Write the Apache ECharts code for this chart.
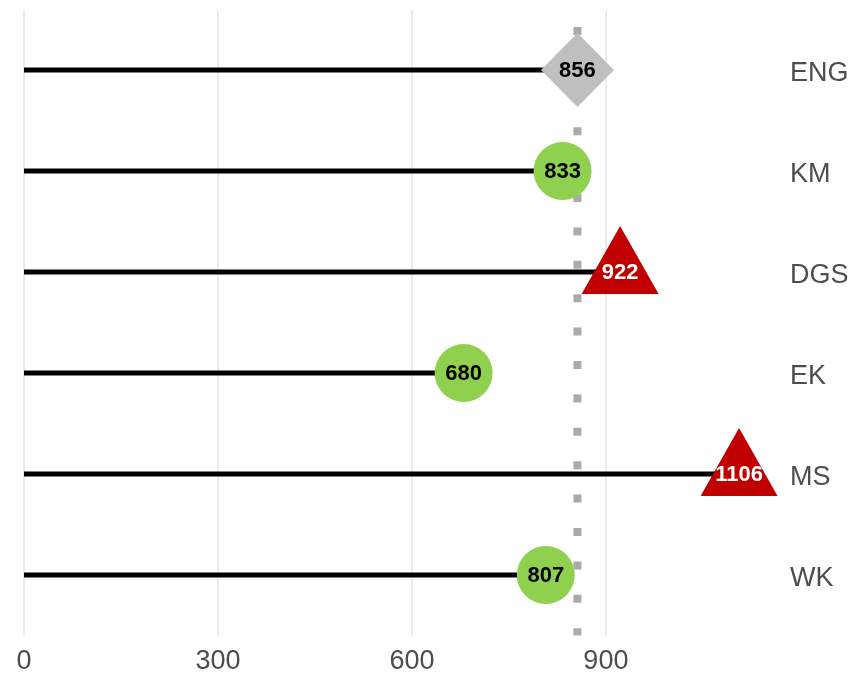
<!DOCTYPE html>
<html>
<head>
<meta charset="utf-8">
<script src="https://cdn.jsdelivr.net/npm/echarts@6/dist/echarts.min.js"></script>
<style>html,body{margin:0;padding:0;background:#fff}#c{width:856px;height:678px}</style>
</head>
<body>
<div id="c"></div>
<script>
const categories = ['ENG', 'KM', 'DGS', 'EK', 'MS', 'WK'];
const values = [856, 833, 922, 680, 1106, 807];
const referenceValue = 856;
const xTicks = [0, 300, 600, 900];

const FONT = '"Liberation Sans", Arial, Helvetica, sans-serif';
const chart = echarts.init(document.getElementById('c'), null, {renderer: 'canvas'});

function markerStyle(v) {
  if (v > referenceValue) return {symbol: 'triangle', symbolSize: [77, 68], symbolOffset: [0, -12], color: '#c00000', text: '#ffffff'};
  if (v < referenceValue) return {symbol: 'circle', symbolSize: 58, symbolOffset: [0, 0], color: '#8fd14f', text: '#000000'};
  return {symbol: 'diamond', symbolSize: [73, 74], symbolOffset: [0, 0], color: '#bfbfbf', text: '#000000'};
}

const pts = values.map((v, i) => [v, i]);

chart.setOption({
  animation: false,
  grid: {left: 24, right: 82, top: 9.4, bottom: 42.4, containLabel: false},
  xAxis: {
    type: 'value', min: 0, max: 1160, interval: 300,
    axisLine: {show: false}, axisTick: {show: false},
    axisLabel: {color: '#4d4d4d', fontSize: 27, fontFamily: FONT, margin: 12,
      customValues: xTicks},
    splitLine: {show: true, showMaxLine: false, lineStyle: {color: '#ebebeb', width: 2}}
  },
  yAxis: {
    type: 'value', inverse: true, min: -0.6, max: 5.6, position: 'right',
    axisLine: {show: false}, axisTick: {show: false},
    splitLine: {show: false},
    axisLabel: {color: '#4d4d4d', fontSize: 27, fontFamily: FONT, margin: 16,
      customValues: categories.map((c, i) => i + 0.035),
      formatter: v => categories[Math.round(v)] || ''}
  },
  series: [
    {
      type: 'custom', z: 2, data: pts,
      renderItem: (params, api) => {
        const p0 = api.coord([0, api.value(1)]);
        const p1 = api.coord([api.value(0), api.value(1)]);
        return {type: 'line', shape: {x1: p0[0], y1: p0[1], x2: p1[0], y2: p1[1]},
          style: {stroke: '#000000', lineWidth: 5}};
      }
    },
    {
      type: 'custom', z: 3, data: [[referenceValue]],
      renderItem: (params, api) => {
        const a = api.coord([api.value(0), -0.6]);
        const b = api.coord([api.value(0), 5.6]);
        return {type: 'line', shape: {x1: a[0], y1: a[1], x2: b[0], y2: b[1]},
          style: {stroke: '#aaaaaa', lineWidth: 8, lineDash: [8, 25.4], lineDashOffset: 15.8, lineCap: 'butt'}};
      }
    },
    {
      type: 'scatter', z: 4,
      data: pts.map(p => {
        const s = markerStyle(p[0]);
        return {value: p, symbol: s.symbol, symbolSize: s.symbolSize, symbolOffset: s.symbolOffset,
          itemStyle: {color: s.color, opacity: 1}};
      })
    },
    {
      type: 'custom', z: 5, data: pts,
      renderItem: (params, api) => {
        const p = api.coord([api.value(0), api.value(1)]);
        const s = markerStyle(api.value(0));
        return {type: 'text', x: p[0], y: p[1] + 1,
          style: {text: String(api.value(0)), fill: s.text, font: 'bold 22px ' + FONT,
            align: 'center', verticalAlign: 'middle'}};
      }
    }
  ]
});
</script>
</body>
</html>
